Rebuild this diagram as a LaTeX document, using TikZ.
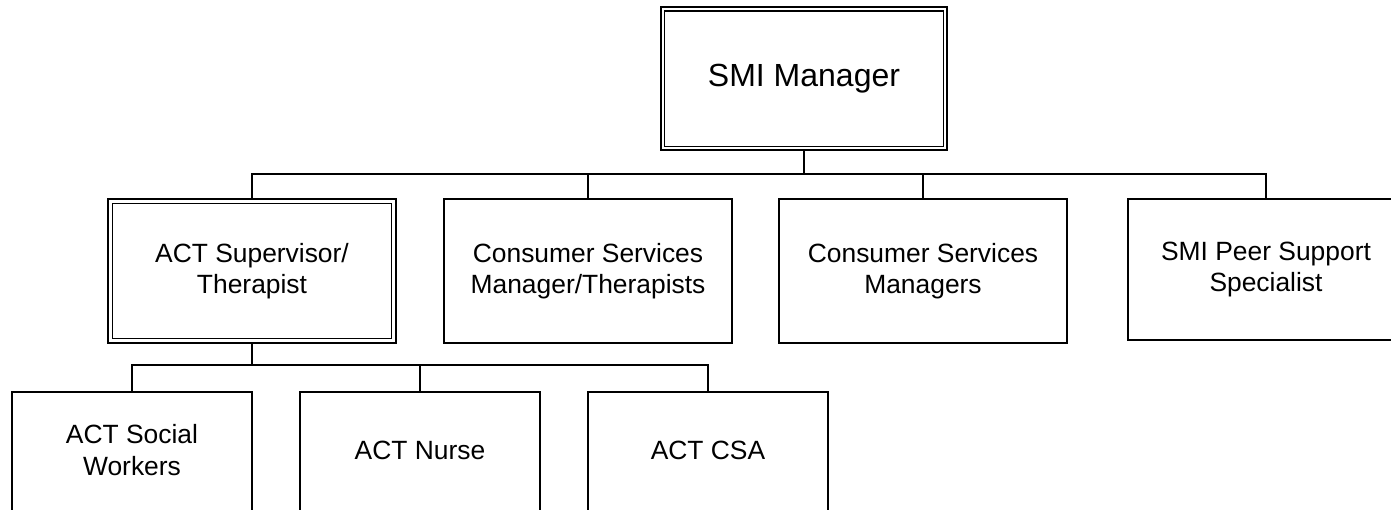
\documentclass[tikz,border=0pt]{standalone}
\usepackage{fontspec}
\setmainfont{Liberation Sans}
\usetikzlibrary{calc}
\begin{document}
\begin{tikzpicture}[x=1pt,y=-1pt,
  box/.style={draw, line width=2pt, outer sep=0pt, inner sep=0pt, align=center,
    font=\fontsize{26.4}{30.5}\selectfont},
  bigbox/.style={box, font=\fontsize{32}{36}\selectfont},
  txt/.style={inner sep=0pt, align=center, font=\fontsize{26.4}{32}\selectfont},
  innerline/.style={draw, line width=1.2pt},
  conn/.style={draw, line width=2pt}]
\useasboundingbox (0,0) rectangle (1391,510);
\clip (0,0) rectangle (1391,510);
% top
\node[bigbox, minimum width=286.6pt, minimum height=143.5pt] (smi) at (804,78.75) {SMI Manager};
% row 2
\node[box, minimum width=287.7pt, minimum height=143.4pt] (sup) at (252,271) {ACT Supervisor/\\Therapist};
\node[box, minimum width=288.4pt, minimum height=143.4pt] (csmt) at (588,271) {Consumer Services\\Manager/Therapists};
\node[box, minimum width=288pt, minimum height=143.4pt] (csm) at (923,271) {Consumer Services\\Managers};
\node[box, minimum width=276pt, minimum height=140.7pt] (peer) at (1266,269.65) {SMI Peer Support\\Specialist};
% row 3
\node[box, anchor=north, minimum width=239.7pt, minimum height=170pt] (sw) at (132,391.5) {};
\node[box, anchor=north, minimum width=240.5pt, minimum height=170pt] (nurse) at (420,391.5) {};
\node[box, anchor=north, minimum width=240.3pt, minimum height=170pt] (csa) at (708,391.5) {};
\node[txt] (swt) at ($(sw.north)+(0,58.5)$) {ACT Social\\Workers};
\node[txt] (nurset) at ($(nurse.north)+(0,58.5)$) {ACT Nurse};
\node[txt] (csat) at ($(csa.north)+(0,58.5)$) {ACT CSA};
% double borders
\draw[innerline] ([shift={(4,4)}]smi.north west) rectangle ([shift={(-4,-4)}]smi.south east);
\draw[innerline] ([shift={(4,4)}]sup.north west) rectangle ([shift={(-4,-4)}]sup.south east);
% buses
\coordinate (b1) at (0,174);
\coordinate (b2) at (0,365);
\draw[conn] (smi.south) -- (smi.south |- b1);
\draw[conn] (sup.north) |- (peer.north |- b1) -- (peer.north);
\draw[conn] (csmt.north) -- (csmt.north |- b1);
\draw[conn] (csm.north) -- (csm.north |- b1);
\draw[conn] (sup.south) -- (sup.south |- b2);
\draw[conn] (sw.north) |- (csa.north |- b2) -- (csa.north);
\draw[conn] (nurse.north) -- (nurse.north |- b2);
\end{tikzpicture}
\end{document}
